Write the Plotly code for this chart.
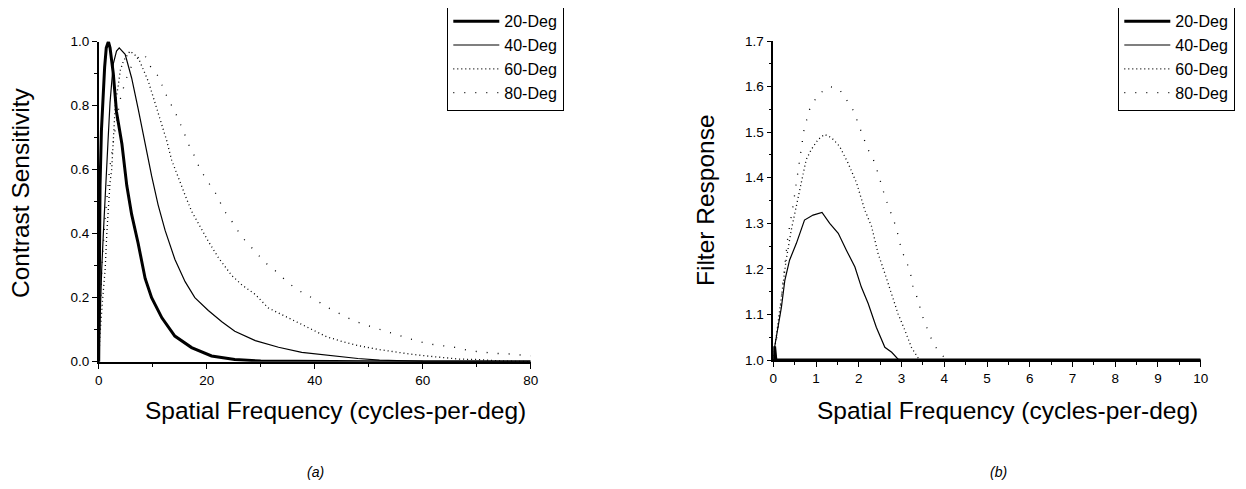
import plotly.graph_objects as go

# ---------- (a) Contrast sensitivity ----------
a_x20 = [0, 0.1, 0.25, 0.5, 0.8, 1.1, 1.4, 1.8, 2.1, 2.7, 3.3, 4.3, 5.2, 6.1, 7.3, 8.6, 9.8, 11.7, 14.1, 17.2, 20.9, 25.2, 30, 40, 50, 60, 70, 80]
a_y20 = [0, 0.30, 0.55, 0.72, 0.83, 0.92, 0.98, 1.0, 0.98, 0.90, 0.78, 0.68, 0.55, 0.46, 0.37, 0.26, 0.20, 0.137, 0.08, 0.044, 0.018, 0.007, 0.002, 0, 0, 0, 0, 0]

a_x40 = [0, 0.25, 0.56, 0.86, 1.2, 1.7, 2.1, 2.7, 3.3, 3.8, 4.9, 6.1, 7.3, 8.6, 9.8, 11, 12.3, 14.1, 16, 17.8, 20.3, 22.8, 25.2, 29, 33.3, 37.6, 41.9, 45, 48, 52, 60, 70, 80]
a_y40 = [0, 0.14, 0.29, 0.40, 0.50, 0.68, 0.81, 0.93, 0.97, 0.98, 0.96, 0.886, 0.79, 0.68, 0.58, 0.49, 0.41, 0.32, 0.25, 0.20, 0.16, 0.125, 0.095, 0.066, 0.045, 0.029, 0.021, 0.015, 0.01, 0.005, 0.001, 0, 0]

a_x60 = [0, 0.25, 0.7, 1.2, 1.5, 1.8, 2.1, 2.4, 2.7, 3.1, 3.6, 4.0, 4.6, 5.8, 7.3, 9.2, 10.4, 11.7, 12.6, 13.5, 14.8, 16, 17.2, 18.5, 20.3, 22.2, 24.6, 26.5, 29, 31.4, 35.1, 39.2, 42.2, 45.3, 48.4, 51.5, 54.6, 57.6, 60.7, 63.8, 66.9, 70, 75, 80]
a_y60 = [0, 0.085, 0.19, 0.29, 0.40, 0.48, 0.56, 0.60, 0.69, 0.81, 0.86, 0.91, 0.94, 0.97, 0.95, 0.875, 0.81, 0.74, 0.69, 0.63, 0.57, 0.52, 0.47, 0.43, 0.376, 0.324, 0.27, 0.24, 0.21, 0.168, 0.137, 0.102, 0.078, 0.062, 0.049, 0.039, 0.031, 0.024, 0.018, 0.014, 0.008, 0.007, 0.002, 0]

a_x80 = [0, 0.3, 0.6, 1.2, 2.0, 3.0, 4.0, 5.0, 6.0, 7.3, 8.5, 9.2, 11.1, 12.3, 13.5, 14.4, 15.7, 16.6, 17.8, 18.8, 20.3, 21.9, 23.1, 24.6, 26.5, 28.6, 30.8, 33, 35.1, 37.3, 40.1, 42.2, 45, 47.2, 49.6, 51.8, 54.3, 56.7, 58.9, 61.4, 63.8, 66.3, 68.8, 71.2, 73.4, 76.2, 78.6, 80]
a_y80 = [0, 0.15, 0.30, 0.45, 0.60, 0.72, 0.82, 0.88, 0.92, 0.95, 0.96, 0.93, 0.89, 0.84, 0.80, 0.77, 0.72, 0.68, 0.64, 0.60, 0.56, 0.52, 0.475, 0.44, 0.39, 0.35, 0.31, 0.28, 0.246, 0.22, 0.194, 0.171, 0.146, 0.128, 0.114, 0.102, 0.089, 0.075, 0.065, 0.055, 0.049, 0.044, 0.034, 0.029, 0.026, 0.024, 0.019, 0.018]

# ---------- (b) Filter response ----------
b_x20 = [0, 0.03, 0.06, 1, 2, 3, 4, 5, 6, 7, 8, 9, 10]
b_y20 = [1.0, 1.03, 1.0, 1.0, 1.0, 1.0, 1.0, 1.0, 1.0, 1.0, 1.0, 1.0, 1.0]

b_x40 = [0, 0.03, 0.11, 0.19, 0.27, 0.38, 0.54, 0.73, 0.93, 1.14, 1.32, 1.52, 1.71, 1.91, 2.06, 2.22, 2.41, 2.61, 2.77, 2.92, 3.0, 5, 10]
b_y40 = [1.0, 1.028, 1.072, 1.116, 1.175, 1.219, 1.256, 1.307, 1.318, 1.324, 1.30, 1.278, 1.241, 1.204, 1.16, 1.124, 1.072, 1.028, 1.017, 1.002, 1.0, 1.0, 1.0]

b_x60 = [0, 0.07, 0.15, 0.23, 0.3, 0.42, 0.54, 0.66, 0.77, 0.89, 1.05, 1.2, 1.36, 1.55, 1.75, 1.95, 2.14, 2.3, 2.45, 2.61, 2.77, 2.92, 3.08, 3.23, 3.35, 3.42, 5, 10]
b_y60 = [1.0, 1.05, 1.101, 1.168, 1.219, 1.285, 1.337, 1.396, 1.44, 1.462, 1.484, 1.495, 1.488, 1.469, 1.432, 1.388, 1.329, 1.293, 1.234, 1.19, 1.146, 1.101, 1.065, 1.028, 1.01, 1.0, 1.0, 1.0]

b_x80 = [0, 0.11, 0.19, 0.27, 0.34, 0.46, 0.58, 0.72, 0.85, 1.05, 1.32, 1.52, 1.67, 1.79, 1.89, 1.98, 2.1, 2.2, 2.34, 2.45, 2.61, 2.73, 2.84, 2.92, 3.0, 3.12, 3.21, 3.27, 3.39, 3.47, 3.57, 3.68, 3.8, 3.99, 4.05, 6, 10]
b_y80 = [1.0, 1.065, 1.138, 1.204, 1.27, 1.337, 1.418, 1.506, 1.55, 1.583, 1.6, 1.596, 1.579, 1.557, 1.546, 1.52, 1.491, 1.465, 1.44, 1.41, 1.359, 1.329, 1.3, 1.274, 1.241, 1.215, 1.19, 1.16, 1.131, 1.101, 1.076, 1.05, 1.028, 1.007, 1.0, 1.0, 1.0]

names = ["20-Deg", "40-Deg", "60-Deg", "80-Deg"]
styles = [
    dict(color="black", width=3, dash="solid"),
    dict(color="black", width=1.2, dash="solid"),
    dict(color="black", width=1.3, dash="1px,3px"),
    dict(color="black", width=1.3, dash="1px,10px"),
]

FONT = "Liberation Sans, Arial, sans-serif"
W, H = 1246, 489
OFF = 8  # page body offset


def px(x):
    return (x - OFF) / W


def py(y):
    return 1 - (y - OFF) / H


fig = go.Figure()
a_sets = [(a_x20, a_y20), (a_x40, a_y40), (a_x60, a_y60), (a_x80, a_y80)]
b_sets = [(b_x20, b_y20), (b_x40, b_y40), (b_x60, b_y60), (b_x80, b_y80)]
for n, st, (xs, ys) in zip(names, styles, a_sets):
    fig.add_trace(go.Scatter(x=xs, y=ys, mode="lines", name=n, line=st,
                             xaxis="x", yaxis="y", legend="legend"))
for n, st, (xs, ys) in zip(names, styles, b_sets):
    fig.add_trace(go.Scatter(x=xs, y=ys, mode="lines", name=n, line=st,
                             xaxis="x2", yaxis="y2", legend="legend2"))

axis_common = dict(
    showline=True, linecolor="black", linewidth=1.6, showgrid=False, zeroline=False,
    ticks="outside", ticklen=5, tickwidth=1.3, tickcolor="black", automargin=False,
    tickfont=dict(family=FONT, size=13.5, color="black"),
)

legend_common = dict(xanchor="left", yanchor="top", bordercolor="black", borderwidth=1.3,
                     bgcolor="white", itemwidth=46, tracegroupgap=0,
                     font=dict(family=FONT, size=16, color="black"))

fig.update_layout(
    template="none",
    width=W, height=H,
    margin=dict(l=0, r=0, t=0, b=0, pad=0, autoexpand=False),
    paper_bgcolor="white", plot_bgcolor="white",
    font=dict(family=FONT, color="black"),
    xaxis=dict(domain=[px(98.7), px(530.7)], range=[0, 80], dtick=20,
               minor=dict(dtick=10, ticks="outside", ticklen=3, tickcolor="black"),
               anchor="y", **axis_common),
    yaxis=dict(domain=[py(361.7), py(41.5)], range=[0, 1.0], dtick=0.2, tickformat=".1f",
               minor=dict(dtick=0.1, ticks="outside", ticklen=3, tickcolor="black"),
               anchor="x", **axis_common),
    xaxis2=dict(domain=[px(773.3), px(1200.7)], range=[0, 10], dtick=1,
                minor=dict(dtick=0.5, ticks="outside", ticklen=3, tickcolor="black"),
                anchor="y2", **axis_common),
    yaxis2=dict(domain=[py(360), py(41)], range=[1.0, 1.7], dtick=0.1, tickformat=".1f",
                minor=dict(dtick=0.05, ticks="outside", ticklen=3, tickcolor="black"),
                anchor="x2", **axis_common),
    legend=dict(x=px(447), y=py(3), **legend_common),
    legend2=dict(x=px(1118), y=py(3), **legend_common),
    showlegend=True,
)

ann_font = dict(family=FONT, size=24.5, color="black")
fig.add_annotation(text="Contrast Sensitivity", x=px(21), y=py(193), xref="paper", yref="paper",
                   textangle=-90, showarrow=False, font=ann_font, xanchor="center", yanchor="middle")
fig.add_annotation(text="Spatial Frequency (cycles-per-deg)", x=px(335), y=py(410), xref="paper", yref="paper",
                   showarrow=False, font=ann_font, xanchor="center", yanchor="middle")
fig.add_annotation(text="Filter Response", x=px(706), y=py(200), xref="paper", yref="paper",
                   textangle=-90, showarrow=False, font=ann_font, xanchor="center", yanchor="middle")
fig.add_annotation(text="Spatial Frequency (cycles-per-deg)", x=px(1007), y=py(410), xref="paper", yref="paper",
                   showarrow=False, font=ann_font, xanchor="center", yanchor="middle")
cap_font = dict(family=FONT, size=14, color="black")
fig.add_annotation(text="<i>(a)</i>", x=px(315), y=py(472), xref="paper", yref="paper",
                   showarrow=False, font=cap_font, xanchor="center", yanchor="middle")
fig.add_annotation(text="<i>(b)</i>", x=px(998), y=py(472), xref="paper", yref="paper",
                   showarrow=False, font=cap_font, xanchor="center", yanchor="middle")

fig.write_html("out.html")
